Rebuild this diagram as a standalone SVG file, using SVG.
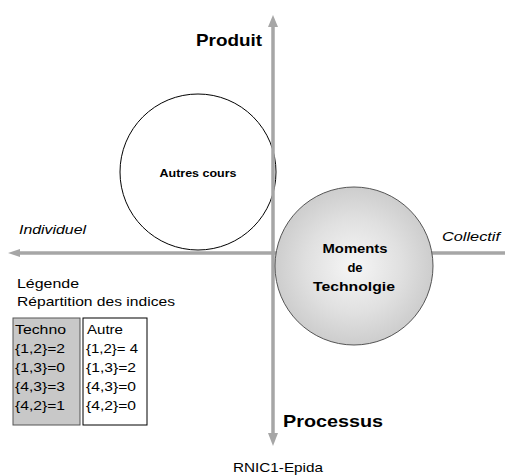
<svg xmlns="http://www.w3.org/2000/svg" width="505" height="475" viewBox="0 0 505 475">
<style>
text{font-family:"Liberation Sans",Arial,sans-serif;fill:#000}
.b{font-weight:bold}
.i{font-style:italic}
.ax{stroke:#a6a6a6;stroke-width:3.5;fill:none}
.t{font-size:13px}
</style>
<defs>
<radialGradient id="g" cx="0.5" cy="0.5" r="0.5">
<stop offset="0" stop-color="#f6f6f6"/>
<stop offset="0.6" stop-color="#e0e0e0"/>
<stop offset="1" stop-color="#cdcdcd"/>
</radialGradient>
</defs>
<rect width="505" height="475" fill="#fff"/>
<g id="autres">
<circle cx="198" cy="172" r="78" fill="#fff" stroke="#000" stroke-width="1"/>
<text class="b" x="198" y="177" font-size="11.5" text-anchor="middle" textLength="77" lengthAdjust="spacingAndGlyphs">Autres cours</text>
</g>
<g id="connectors">
<line class="ax" x1="273" y1="26" x2="273" y2="434"/>
<polygon points="273,15 268,27 278,27" fill="#a6a6a6"/>
<polygon points="273,446 268,433 278,433" fill="#a6a6a6"/>
<line class="ax" x1="19" y1="253" x2="505" y2="253"/>
<polygon points="8,253 20,249 20,257" fill="#a6a6a6"/>
</g>
<g id="moments">
<circle cx="354" cy="266" r="79" fill="url(#g)" stroke="#555" stroke-width="1"/>
<text class="b" x="355" y="253" font-size="13" text-anchor="middle" textLength="65" lengthAdjust="spacingAndGlyphs">Moments</text>
<text class="b" x="355" y="272" font-size="13" text-anchor="middle">de</text>
<text class="b" x="354" y="291" font-size="13" text-anchor="middle" textLength="82" lengthAdjust="spacingAndGlyphs">Technolgie</text>
</g>
<g id="labels">
<text class="b" x="196" y="46" font-size="16.5" textLength="66" lengthAdjust="spacingAndGlyphs">Produit</text>
<text class="b" x="283" y="427" font-size="17" textLength="100" lengthAdjust="spacingAndGlyphs">Processus</text>
<text class="i" x="19" y="234" font-size="13.5" textLength="67" lengthAdjust="spacingAndGlyphs">Individuel</text>
<text class="i" x="442" y="241" font-size="13.5" textLength="58" lengthAdjust="spacingAndGlyphs">Collectif</text>
<text x="233" y="472" font-size="13" textLength="90" lengthAdjust="spacingAndGlyphs">RNIC1-Epida</text>
</g>
<g id="legende">
<text class="t" x="17" y="288" textLength="62" lengthAdjust="spacingAndGlyphs">Légende</text>
<text class="t" x="17" y="306" textLength="158" lengthAdjust="spacingAndGlyphs">Répartition des indices</text>
</g>
<g id="techno">
<rect x="13" y="318" width="67" height="107" fill="#c8c8c8" stroke="#555" stroke-width="1"/>
<text class="t" x="15" y="334" textLength="51" lengthAdjust="spacingAndGlyphs">Techno</text>
<text class="t" x="15" y="353" textLength="50" lengthAdjust="spacingAndGlyphs">{1,2}=2</text>
<text class="t" x="15" y="372" textLength="50" lengthAdjust="spacingAndGlyphs">{1,3}=0</text>
<text class="t" x="15" y="391" textLength="50" lengthAdjust="spacingAndGlyphs">{4,3}=3</text>
<text class="t" x="15" y="410" textLength="50" lengthAdjust="spacingAndGlyphs">{4,2}=1</text>
</g>
<g id="autre">
<rect x="83" y="318" width="64" height="107" fill="#fff" stroke="#000" stroke-width="1"/>
<text class="t" x="87" y="334" textLength="36" lengthAdjust="spacingAndGlyphs">Autre</text>
<text class="t" x="86" y="353" textLength="52" lengthAdjust="spacingAndGlyphs">{1,2}= 4</text>
<text class="t" x="86" y="372" textLength="50" lengthAdjust="spacingAndGlyphs">{1,3}=2</text>
<text class="t" x="86" y="391" textLength="50" lengthAdjust="spacingAndGlyphs">{4,3}=0</text>
<text class="t" x="86" y="410" textLength="50" lengthAdjust="spacingAndGlyphs">{4,2}=0</text>
</g>
</svg>
